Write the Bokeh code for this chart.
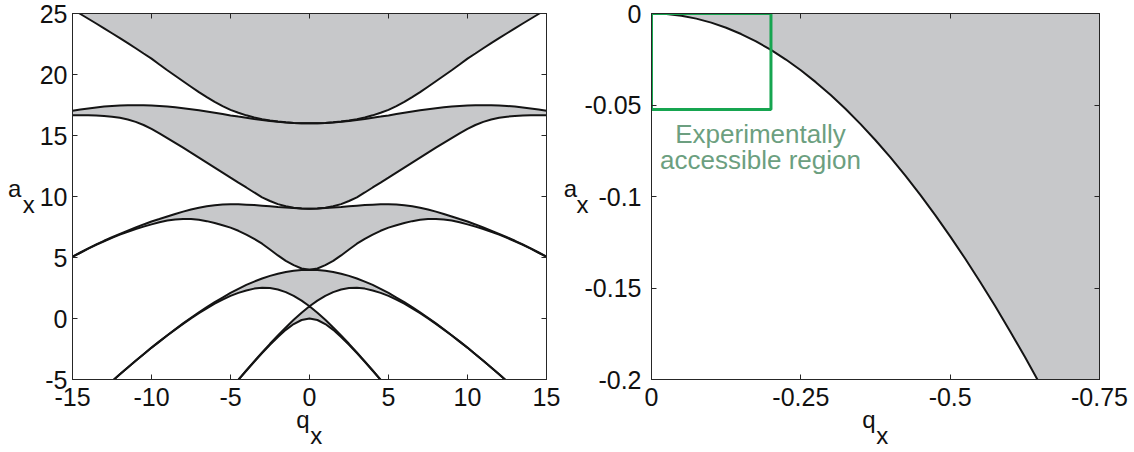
from bokeh.plotting import figure
from bokeh.layouts import row
from bokeh.models import Range1d, LinearAxis, FixedTicker, Label
from bokeh.embed import file_html
from bokeh.resources import INLINE

# ---------------- data ----------------
# |q| grid for the left panel (curves are symmetric in q)
q_pos = [0, 0.5, 1, 1.5, 2, 2.5, 3, 3.5, 4, 4.5, 5, 5.5, 6, 6.5, 7, 7.5,
         8, 8.5, 9, 9.5, 10, 10.5, 11, 11.5, 12, 12.5, 13, 13.5, 14, 14.5, 15]

a0 = [0, -0.122, -0.455, -0.93, -1.514, -2.155, -2.834, -3.545, -4.281, -5.03, -5.80,
      -6.59, -7.39, -8.2, -9.0, -9.8, -10.6, -11.4, -12.25, -13.1, -13.94, -14.78,
      -15.62, -16.47, -17.32, -18.18, -19.04, -19.9, -20.77, -21.64, -22.51]
b1 = [1, 0.471, -0.110, -0.73, -1.391, -2.074, -2.785, -3.51, -4.254, -5.014, -5.79,
      -6.585, -7.385, -8.2, -9.0, -9.8, -10.6, -11.4, -12.25, -13.1, -13.94, -14.78,
      -15.62, -16.47, -17.32, -18.18, -19.04, -19.9, -20.77, -21.64, -22.51]
a1 = [1, 1.467, 1.859, 2.163, 2.379, 2.496, 2.517, 2.45, 2.29, 2.10, 1.858, 1.55,
      1.21, 0.835, 0.433, 0.006, -0.44, -0.91, -1.394, -1.895, -2.399, -2.93, -3.471,
      -4.02, -4.578, -5.145, -5.722, -6.31, -6.90, -7.50, -8.11]
b2 = [4, 3.979, 3.917, 3.814, 3.672, 3.492, 3.277, 3.027, 2.75, 2.43, 2.099, 1.72,
      1.34, 0.93, 0.504, 0.059, -0.40, -0.88, -1.371, -1.875, -2.385, -2.925, -3.463,
      -4.013, -4.572, -5.143, -5.72, -6.31, -6.90, -7.50, -8.10]
a2 = [4, 4.101, 4.371, 4.72, 5.17, 5.66, 6.13, 6.53, 6.88, 7.19, 7.449, 7.65, 7.83,
      7.98, 8.09, 8.15, 8.16, 8.12, 8.03, 7.89, 7.717, 7.53, 7.34, 7.11, 6.87, 6.61,
      6.33, 6.04, 5.72, 5.39, 5.05]
b3 = [9, 9.014, 9.048, 9.093, 9.14, 9.2, 9.25, 9.3, 9.33, 9.355, 9.36, 9.34, 9.29,
      9.2, 9.08, 8.93, 8.76, 8.57, 8.36, 8.15, 7.95, 7.71, 7.46, 7.2, 6.94, 6.66,
      6.37, 6.07, 5.75, 5.41, 5.07]
a3 = [9, 9.018, 9.078, 9.194, 9.375, 9.63, 9.93, 10.33, 10.74, 11.14, 11.549, 11.96,
      12.37, 12.78, 13.19, 13.6, 14.0, 14.4, 14.79, 15.18, 15.54, 15.86, 16.12,
      16.31, 16.45, 16.54, 16.6, 16.64, 16.66, 16.67, 16.67]
b4 = [16, 16.008, 16.033, 16.073, 16.128, 16.19, 16.273, 16.36, 16.455, 16.55,
      16.648, 16.76, 16.87, 16.97, 17.07, 17.16, 17.24, 17.31, 17.37, 17.42, 17.45,
      17.47, 17.48, 17.48, 17.46, 17.42, 17.37, 17.3, 17.22, 17.13, 17.03]
a4 = [16, 16.008, 16.034, 16.078, 16.141, 16.23, 16.339, 16.48, 16.653, 16.86, 17.10,
      17.41, 17.75, 18.14, 18.55, 19.0, 19.45, 19.9, 20.35, 20.82, 21.3, 21.72, 22.15,
      22.57, 22.98, 23.38, 23.78, 24.18, 24.57, 24.96, 25.35]

left_xticks = [-15, -10, -5, 0, 5, 10, 15]
left_xlabels = ["-15", "-10", "-5", "0", "5", "10", "15"]
left_yticks = [-5, 0, 5, 10, 15, 20, 25]
left_ylabels = ["-5", "0", "5", "10", "15", "20", "25"]

# right panel: lowest boundary a0 near the origin (q negative)
q_right = [0, -0.025, -0.05, -0.075, -0.1, -0.125, -0.15, -0.175, -0.2, -0.225,
           -0.25, -0.275, -0.3, -0.325, -0.35, -0.375, -0.4, -0.425, -0.45, -0.475,
           -0.5, -0.525, -0.55, -0.575, -0.6, -0.625, -0.65, -0.675, -0.7, -0.725,
           -0.75]
a0_right = [0, -0.00031, -0.00125, -0.00281, -0.00499, -0.0078, -0.01122, -0.01526,
            -0.01991, -0.02517, -0.03104, -0.03751, -0.04457, -0.05222, -0.06045,
            -0.06927, -0.07865, -0.0886, -0.09911, -0.11016, -0.12178, -0.1339,
            -0.14656, -0.15975, -0.17344, -0.18762, -0.20232, -0.2175, -0.23314,
            -0.24917, -0.26584]
right_xticks = [0, -0.25, -0.5, -0.75]
right_xlabels = ["0", "-0.25", "-0.5", "-0.75"]
right_yticks = [0, -0.05, -0.1, -0.15, -0.2]
right_ylabels = ["0", "-0.05", "-0.1", "-0.15", "-0.2"]

# experimentally accessible region (q from 0 to -0.2, a from 0 to -0.0525)
region_q = [0, -0.2]
region_a = [0, -0.0525]
region_text = ["Experimentally", "accessible region"]

# ---------------- styling ----------------
FONT = "Liberation Sans"
GRAY = "#c7c8ca"
LINE = "#141414"
AX = "#262626"
GREEN = "#16a550"
TEXT_GREEN = "#6c9f80"
TICK_FS = "25px"
NB = "\u00a0"
THIN = "\u2009"
# two-line axis titles imitate the subscript x
YLABEL_L = "a" + NB + NB + "\n" + "x"
YLABEL_R = "a" + NB + THIN + "\n" + "x"
XLABEL = "q" + NB + NB + "\n" + NB + NB + "x"


def mirror(v):
    return list(reversed(v[1:])) + list(v)


q_full = [-q for q in reversed(q_pos[1:])] + list(q_pos)


def style_axis(ax, ticks, labels, show=True, standoff=8):
    ax.ticker = FixedTicker(ticks=ticks)
    ax.major_label_overrides = {t: l for t, l in zip(ticks, labels)}
    ax.major_tick_in = 5
    ax.major_tick_out = 0
    ax.minor_tick_line_color = None
    ax.axis_line_color = AX
    ax.major_tick_line_color = AX
    ax.major_label_text_font = FONT
    if show:
        ax.major_label_text_color = "#111111"
        ax.major_label_text_font_size = TICK_FS
        ax.major_label_standoff = standoff
    else:
        ax.major_label_text_color = None
        ax.major_label_text_font_size = "0px"
        ax.major_label_standoff = 0


def set_label(ax, text, standoff, horizontal=False):
    ax.axis_label = text
    if horizontal:
        ax.axis_label_orientation = "horizontal"
    ax.axis_label_text_font = FONT
    ax.axis_label_text_font_size = "24px"
    ax.axis_label_text_font_style = "normal"
    ax.axis_label_text_line_height = 0.6
    ax.axis_label_standoff = standoff
    ax.axis_label_text_color = "#111111"


def make_fig(width, xr, yr, left, right):
    p = figure(width=width, height=452, x_range=xr, y_range=yr,
               output_backend="svg", toolbar_location=None,
               min_border_left=left, min_border_right=right,
               min_border_top=13, min_border_bottom=73)
    p.grid.visible = False
    p.outline_line_color = AX
    p.outline_line_width = 1
    p.background_fill_color = "white"
    p.border_fill_color = "white"
    return p


def add_mirror_axes(p, xt, xl, yt, yl):
    top = LinearAxis()
    style_axis(top, xt, xl, False)
    p.add_layout(top, "above")
    rgt = LinearAxis()
    style_axis(rgt, yt, yl, False)
    p.add_layout(rgt, "right")


# ---------------- left panel ----------------
YMAX_L = 25
p1 = make_fig(560, Range1d(-15, 15), Range1d(-5, YMAX_L), 72, 14)
bottom1, left1 = p1.below[0], p1.left[0]

pairs = [(a0, b1), (a1, b2), (a2, b3), (a3, b4)]
for lo, hi in pairs:
    p1.varea(x=q_full, y1=mirror(lo), y2=mirror(hi), fill_color=GRAY)
p1.varea(x=q_full, y1=mirror(a4), y2=[YMAX_L] * len(q_full), fill_color=GRAY)

for c in [a0, b1, a1, b2, a2, b3, a3, b4, a4]:
    p1.line(q_full, mirror(c), line_color=LINE, line_width=2)

style_axis(bottom1, left_xticks, left_xlabels, True, 8)
style_axis(left1, left_yticks, left_ylabels, True, 5)
set_label(left1, YLABEL_L, 2, horizontal=True)
set_label(bottom1, XLABEL, -3)
add_mirror_axes(p1, left_xticks, left_xlabels, left_yticks, left_ylabels)

# ---------------- right panel ----------------
p2 = make_fig(574, Range1d(0, -0.75), Range1d(-0.2, 0), 91, 35)
bottom2, left2 = p2.below[0], p2.left[0]
p2.varea(x=q_right, y1=a0_right, y2=[0] * len(q_right), fill_color=GRAY)
p2.line(q_right, a0_right, line_color=LINE, line_width=2)
p2.quad(left=[region_q[0]], right=[region_q[1]], top=[region_a[0]],
        bottom=[region_a[1]], fill_color=None, line_color=GREEN, line_width=3)

style_axis(bottom2, right_xticks, right_xlabels, True, 8)
style_axis(left2, right_yticks, right_ylabels, True, 10)
set_label(left2, YLABEL_R, -7, horizontal=True)
set_label(bottom2, XLABEL, -3)
add_mirror_axes(p2, right_xticks, right_xlabels, right_yticks, right_ylabels)


def lab2(px, py):
    # page pixels -> data coordinates of the right panel
    return -(px - 651) / 448 * 0.75, -(py - 13) / 366 * 0.2


for txt, base in zip(region_text, [133, 159]):
    x, y = lab2(760, base)
    p2.add_layout(Label(x=x, y=y, text=txt, text_font=FONT, text_font_size="26px",
                        text_color=TEXT_GREEN, text_align="center",
                        text_baseline="alphabetic"))

layout = row(p1, p2)
open("out.html", "w").write(file_html(layout, INLINE))
